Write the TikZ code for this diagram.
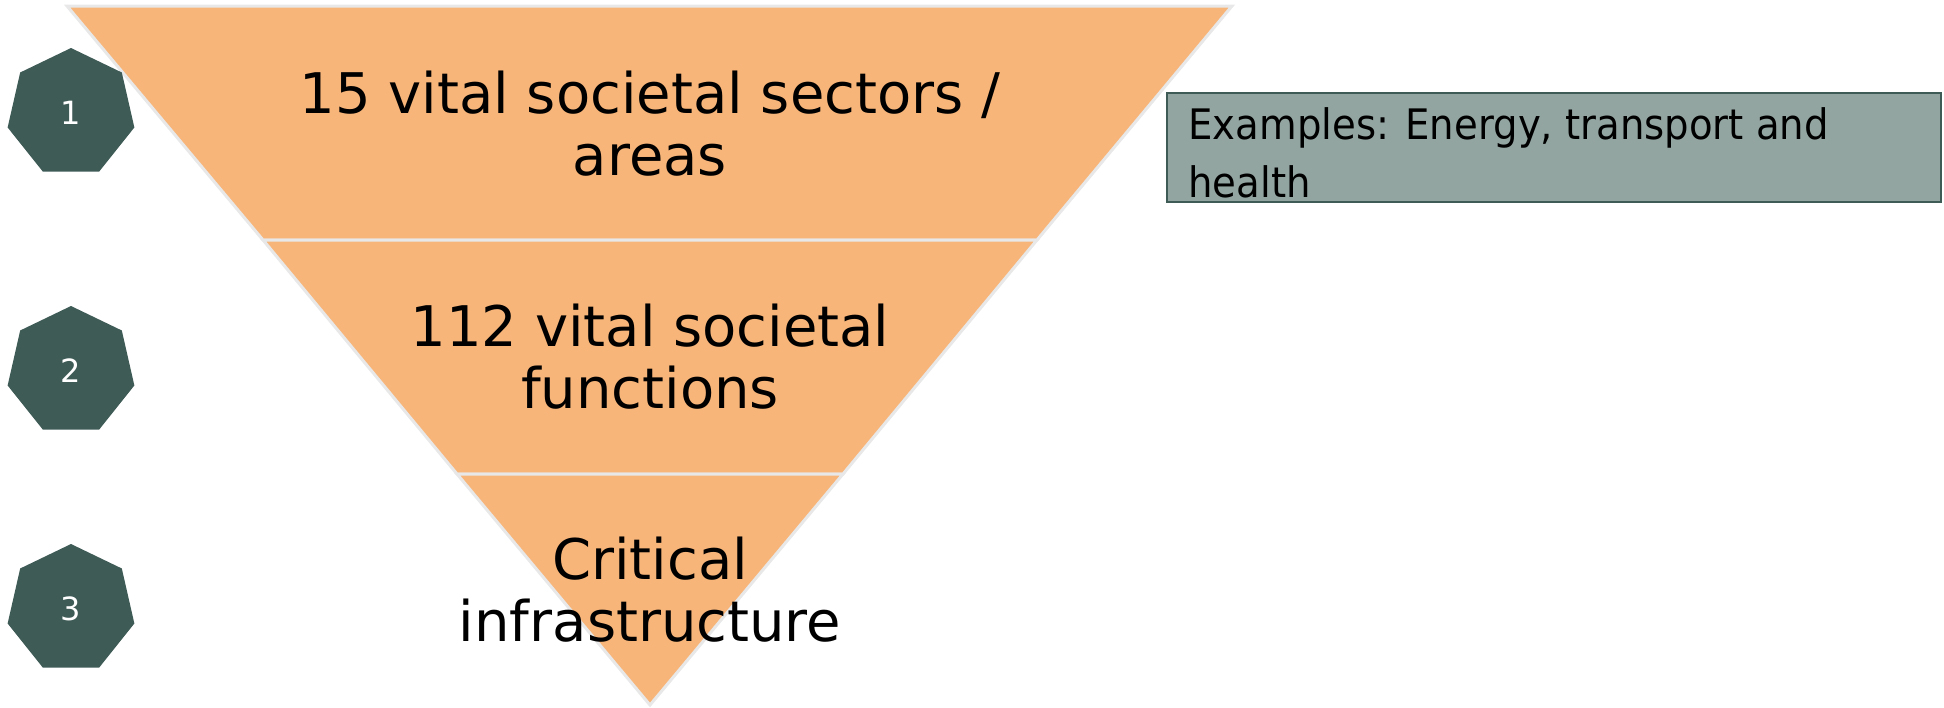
\documentclass[tikz,border=0pt]{standalone}
\usepackage{fontspec}
\setmainfont{DejaVu Sans}
\usetikzlibrary{shapes.geometric}
\definecolor{segfill}{HTML}{F8B57A}
\definecolor{segedge}{HTML}{E8E8E8}
\definecolor{hepfill}{HTML}{3F5B56}
\definecolor{boxfill}{HTML}{93A5A1}
\definecolor{boxedge}{HTML}{3F5B56}
\tikzset{
  seg/.style={fill=segfill, draw=segedge, line width=1.5pt, line join=miter},
  hep/.style={regular polygon, regular polygon sides=7, fill=hepfill, inner sep=0pt, minimum size=65pt, text=white, font=\fontsize{16}{18}\selectfont},
  segtext/.style={align=center, font=\fontsize{28}{31}\selectfont, text=black},
  exbox/.style={draw=boxedge, fill=boxfill, line width=1pt, minimum width=387pt, minimum height=54.5pt, inner sep=0pt},
  extext/.style={anchor=west, text=black, inner sep=0pt}
}
\begin{document}
\begin{tikzpicture}[x=0.5pt, y=-0.5pt]
\useasboundingbox (0,0) rectangle (1944,707);
% triangle segments
\draw[seg] (67,6) -- (1232,6) -- (1037,240) -- (263,240) -- cycle;
\draw[seg] (263,240) -- (1037,240) -- (843,474) -- (457,474) -- cycle;
\draw[seg] (457,474) -- (843,474) -- (650,705) -- cycle;
% texts
\node[segtext] (t1) at (650,124) {15 vital societal sectors /\\areas};
\node[segtext] (t2) at (650,357) {112 vital societal\\functions};
\node[segtext] (t3) at (650,590) {Critical\\infrastructure};
% heptagons
\node[hep] (h1) at (71,113) {1};
\node[hep] (h2) at (71,371) {2};
\node[hep] (h3) at (71,609) {3};
% example box
\node[exbox] (ex) at (1554,147.5) {};
\node[extext] (exl) at (1188,157) {\fontsize{21}{29}\selectfont\scalebox{0.92}[1]{\begin{tabular}{@{}l@{}}Examples: Energy, transport and\\health\end{tabular}}};
\end{tikzpicture}
\end{document}
